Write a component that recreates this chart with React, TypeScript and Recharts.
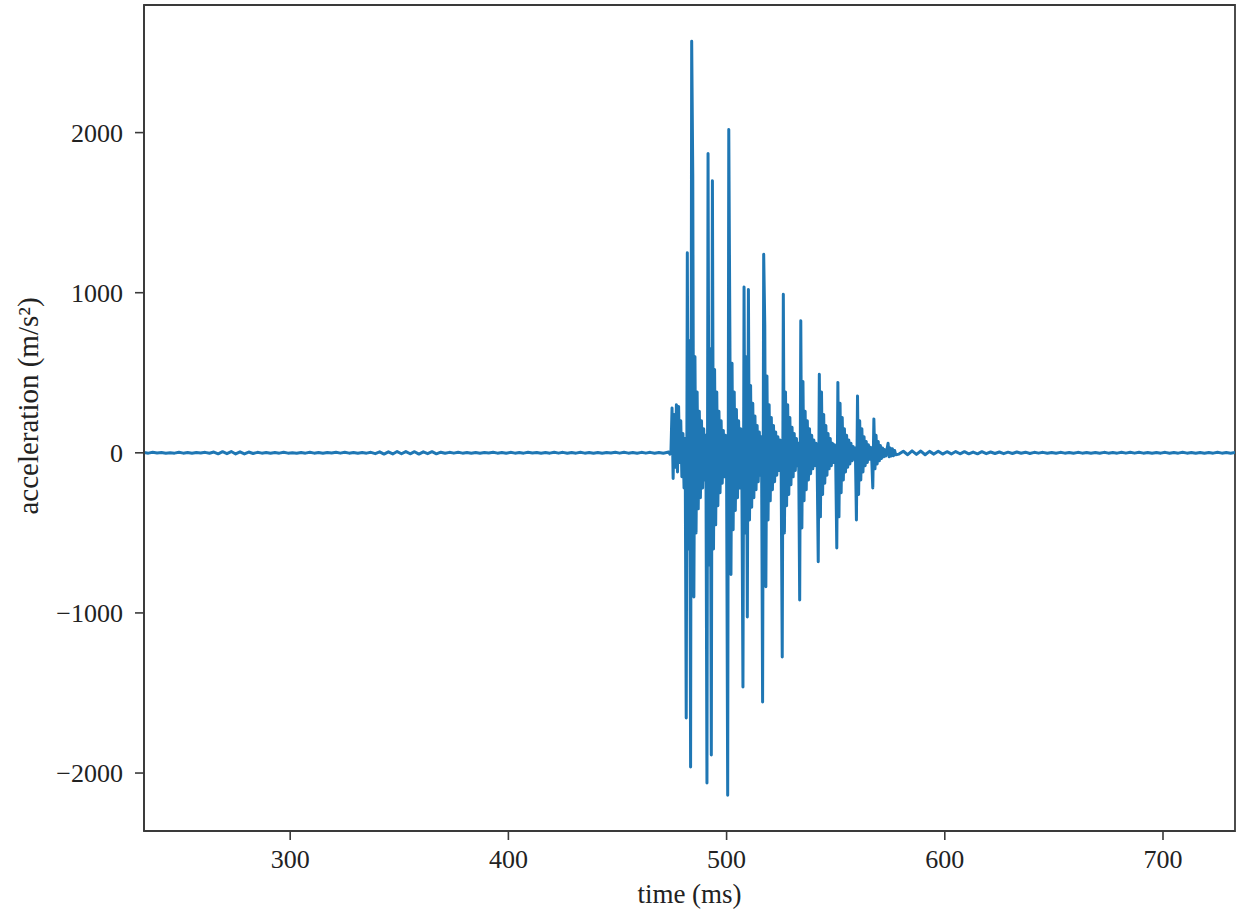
import React from "react";
import { LineChart, Line, XAxis, YAxis, ReferenceArea } from "recharts";

// sample grids (ms)
const preStart = 233;
const preStep = 2;
const burstStart = 473.5;
const burstStep = 0.5;
const postStart = 579;
const postStep = 2;

// quiet signal before the impacts (m/s²)
const preValues = [
  2, -2, 3, -1, 2, -3, 1, -2, 3, -2,
  2, -3, 2, -1, 3, -3, 5, -6, 7, -5,
  8, -7, 6, -7, 5, -4, 3, -2, 2, -3,
  2, -2, 3, -2, 1, -3, 2, -2, 3, -2,
  2, -3, 2, -1, 3, -2, 3, -2, 2, -3,
  2, -2, 3, -5, 6, -8, 6, -7, 8, -6,
  8, -6, 7, -8, 6, -5, 7, -6, 4, -3,
  3, -2, 3, -2, 2, -3, 2, -3, 2, -1,
  3, -2, 2, -3, 3, -2, 2, -2, 3, -1,
  2, -3, 2, -2, 3, -2, 3, -3, 2, -2,
  3, -2, 2, -3, 2, -3, 2, -1, 3, -2,
  3, -2, 2, -3, 3, -2, 3, -3, 2, -3,
];

// impact burst (m/s²)
const burstValues = [
  5, -8, 10, 280, -160, 240, -90, 300, -120, 290,
  -60, 200, -150, 120, -220, 90, -1656, 1250, -600, 700,
  -1962, 2570, 1740, -900, 600, -500, 380, -350, 260, -280,
  200, -220, 150, -170, 110, -2062, 1870, -700, 650, -1888,
  1700, -600, 520, -450, 380, -330, 260, -250, 200, -190,
  140, -150, 110, -120, -2138, 2020, 760, -760, 560, -480,
  380, -360, 270, -280, 200, -220, 150, -170, -1462, 1035,
  -500, 600, -1025, 1020, -420, 420, -340, 310, -280, 230,
  -230, 170, -180, 130, -140, 100, -1556, 1240, 800, -837,
  480, -420, 300, -300, 220, -230, 170, -180, 130, -140,
  100, -110, 80, -90, -1275, 990, -500, 380, -330, 300,
  -260, 220, -200, 160, -150, 120, -110, 90, -80, 60,
  -919, 825, -470, 445, -300, 260, -230, 200, -170, 150,
  -130, 110, -100, 80, -80, 60, -60, -681, 490, -400,
  380, -260, 240, -190, 170, -140, 120, -100, 90, -80,
  60, -60, 50, -50, -594, 440, -400, 310, -250, 220,
  -170, 150, -120, 110, -90, 80, -70, 60, -50, 40,
  -40, 30, -419, 355, -260, 200, -170, 150, -120, 100,
  -80, 70, -60, 50, -40, 35, -30, -219, 212, -100,
  110, -70, 70, -50, 45, -35, 30, -25, 20, -20,
  20, 60, -25, 30, -20, 25, -18, 15, -12,
];

// settling signal after the impacts (m/s²)
const postValues = [
  -8, 10, -12, 12, -10, 11, -12, 9, -8, 10,
  -8, 7, -7, 8, -6, 7, -6, 5, -6, 7,
  -5, 5, -4, 5, -5, 4, -4, 5, -3, 4,
  -4, 3, -2, 3, -3, 2, -3, 3, -2, 2,
  -3, 3, -2, 2, -3, 2, -3, 3, -2, 2,
  -2, 3, -2, 3, -2, 3, -2, 2, -3, 2,
  -2, 3, -3, 2, -2, 3, -2, 2, -3, 2,
  -3, 2, -2, 3, -2, 2, -2, 2,
];

const xTicks = [300, 400, 500, 600, 700];
const yTicks = [-2000, -1000, 0, 1000, 2000];
const xDomain = [233, 733];
const yDomain = [-2362, 2797];

const toPoints = (start: number, step: number, vals: number[]) =>
  vals.map((v, i) => ({ t: start + i * step, v }));

const data = [
  ...toPoints(preStart, preStep, preValues),
  ...toPoints(burstStart, burstStep, burstValues),
  ...toPoints(postStart, postStep, postValues),
].sort((a, b) => a.t - b.t);

const FONT = "'Liberation Serif', 'Times New Roman', serif";
const FRAME = "#3a3a3a";
const fmt = (v: number) => (v < 0 ? "\u2212" + Math.abs(v) : String(v));

export default function App() {
  return (
    <div style={{ position: "absolute", left: 0, top: 0, width: 1237, height: 909, background: "#fff" }}>
      <LineChart
        width={1237}
        height={909}
        data={data}
        margin={{ top: 5, right: 2, bottom: 0, left: 0 }}
      >
        <XAxis
          dataKey="t"
          type="number"
          domain={xDomain}
          allowDataOverflow
          ticks={xTicks}
          height={78}
          tickSize={9}
          tickMargin={10}
          axisLine={{ stroke: FRAME, strokeWidth: 1.8 }}
          tickLine={{ stroke: FRAME, strokeWidth: 1.6 }}
          tick={{ fill: "#222", fontSize: 26, fontFamily: FONT }}
          label={{
            value: "time (ms)",
            position: "insideBottom",
            offset: 6,
            fill: "#222",
            fontSize: 27,
            fontFamily: FONT,
          }}
        />
        <YAxis
          type="number"
          domain={yDomain}
          allowDataOverflow
          ticks={yTicks}
          width={144}
          tickSize={9}
          tickMargin={12}
          tickFormatter={fmt}
          axisLine={{ stroke: FRAME, strokeWidth: 1.8 }}
          tickLine={{ stroke: FRAME, strokeWidth: 1.6 }}
          tick={{ fill: "#222", fontSize: 26, fontFamily: FONT }}
          label={{
            value: "acceleration (m/s\u00b2)",
            angle: -90,
            position: "center",
            dx: -44,
            dy: -12,
            fill: "#222",
            fontSize: 29,
            fontFamily: FONT,
          }}
        />
        <Line
          dataKey="v"
          type="linear"
          stroke="#1f77b4"
          strokeWidth={3}
          strokeLinejoin="round"
          dot={false}
          activeDot={false}
          isAnimationActive={false}
        />
        <ReferenceArea
          x1={xDomain[0]}
          x2={xDomain[1]}
          y1={yDomain[0]}
          y2={yDomain[1]}
          fill="none"
          stroke={FRAME}
          strokeWidth={1.8}
          ifOverflow="extendDomain"
        />
      </LineChart>
    </div>
  );
}
